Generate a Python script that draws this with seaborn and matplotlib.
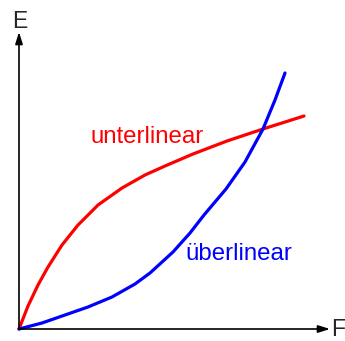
import numpy as np
import pandas as pd
import matplotlib
matplotlib.use("Agg")
import matplotlib.pyplot as plt
import seaborn as sns

# values (F horizontal, E vertical, origin at the axes corner)
f_unter = [0, 9, 19, 29, 43, 59, 79, 103, 126, 146, 174, 208, 244, 285]
e_unter = [0, 23, 44, 62, 84, 104, 124, 141, 154, 163, 175, 188, 200, 213]

f_ueber = [0, 23, 46, 69, 93, 116, 131, 154, 171, 185, 207, 226, 244, 256, 266]
e_ueber = [0, 6, 14, 22, 32, 45, 56, 77, 96, 114, 140, 167, 200, 229, 256]

label_unter = "unterlinear"
label_ueber = "überlinear"
label_x = "F"
label_y = "E"

sns.set_style("white")
plt.rcParams["font.family"] = ["Liberation Sans", "DejaVu Sans"]

fig = plt.figure(figsize=(3.45, 3.41), dpi=100)
ax = fig.add_axes([0, 0, 1, 1])
ax.set_xlim(-19, 326)
ax.set_ylim(-12, 329)
ax.axis("off")

# Achsen mit Pfeilen
arrow = dict(arrowstyle="-|>,head_length=0.7,head_width=0.22", color="black",
             lw=1.2, shrinkA=0, shrinkB=0)
ax.annotate("", xy=(0, 297), xytext=(0, 0), arrowprops=arrow)
ax.annotate("", xy=(311, 0), xytext=(0, 0), arrowprops=arrow)

df_u = pd.DataFrame({"F": f_unter, "E": e_unter})
df_b = pd.DataFrame({"F": f_ueber, "E": e_ueber})
sns.lineplot(data=df_u, x="F", y="E", ax=ax, color="#ff0000", lw=2.3,
             sort=False, solid_joinstyle="round")
sns.lineplot(data=df_b, x="F", y="E", ax=ax, color="#0000ff", lw=2.3,
             sort=False, solid_joinstyle="round")

ax.text(72, 186, label_unter, color="#ff0000", fontsize=17.3,
        ha="left", va="baseline")
ax.text(166, 69, label_ueber, color="#0000ff", fontsize=17.3,
        ha="left", va="baseline")
ax.text(0.5, 301, label_y, fontsize=16.5, ha="center", va="baseline")
ax.text(312, 0, label_x, fontsize=16.5, ha="left", va="center")

fig.savefig("out.png", dpi=100)
